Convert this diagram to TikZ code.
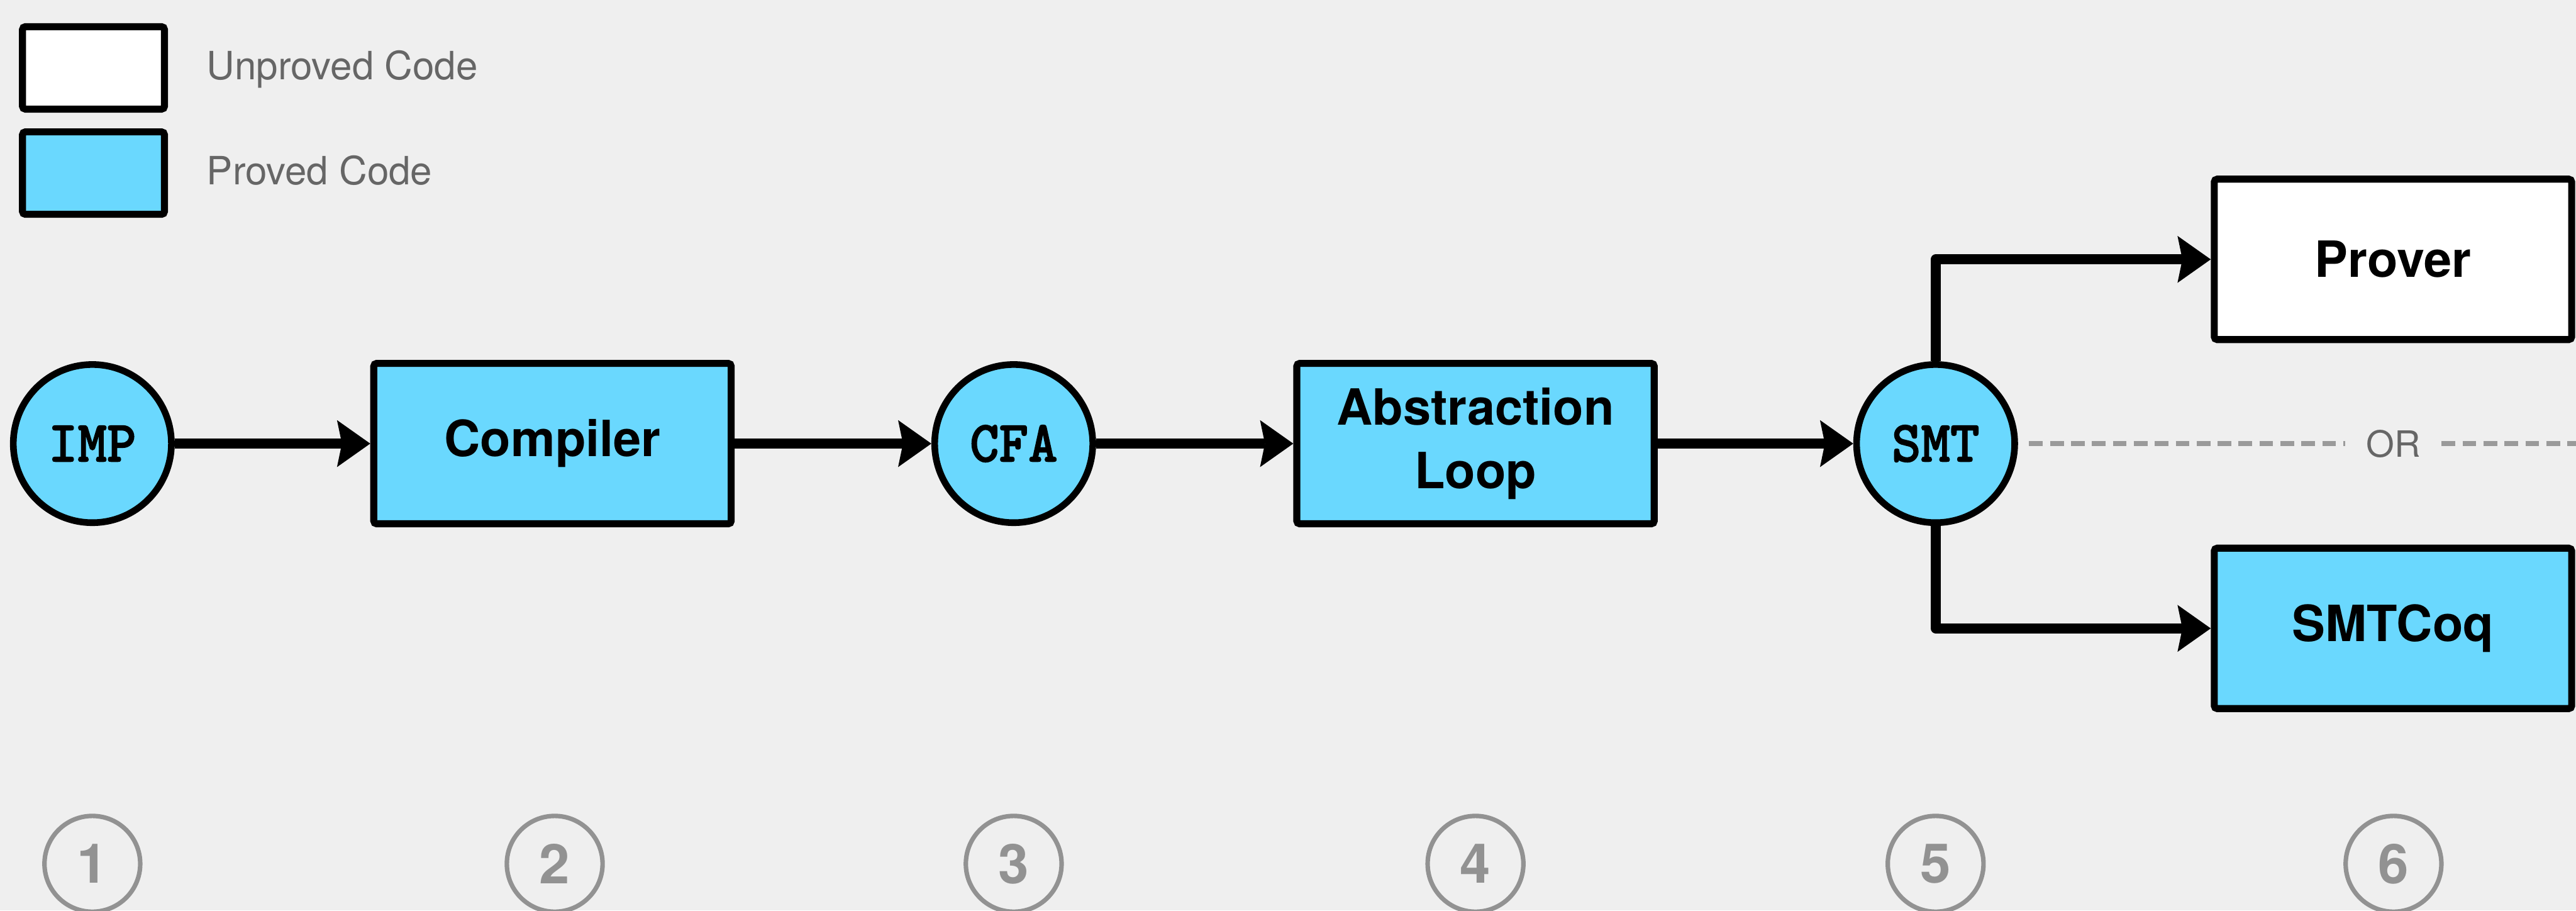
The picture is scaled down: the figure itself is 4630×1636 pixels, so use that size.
\documentclass[tikz,border=0pt]{standalone}
\usepackage{fontspec}
\newfontfamily\heros{TeX Gyre Heros}
\newfontfamily\codef{lmmonolt10-bold.otf}[FakeBold=1.6]
\newcommand\mycode[1]{\scalebox{1}[1.05]{\codef\fontsize{28.5}{30}\selectfont #1}}
\usetikzlibrary{arrows.meta}
\definecolor{bg}{HTML}{EFEFEF}
\definecolor{provedc}{HTML}{6AD8FE}
\definecolor{numgray}{HTML}{929292}
\definecolor{legtext}{HTML}{666666}
\definecolor{dashgray}{HTML}{9A9A9A}
\begin{document}
\begin{tikzpicture}[x=0.01cm,y=-0.01cm,
  box/.style={draw=black, line width=3.6pt, rounded corners=1.5pt, minimum width=6.42cm, minimum height=2.88cm, inner sep=0pt, align=center,
    font=\heros\bfseries\fontsize{25.5}{32.7}\selectfont},
  provedbox/.style={box, fill=provedc},
  unprovedbox/.style={box, fill=white},
  lang/.style={circle, draw=black, line width=3.4pt, fill=provedc, minimum size=2.84cm, inner sep=0pt},
  flow/.style={-{Stealth[length=17pt,width=24pt,inset=2.5pt,line width=0pt]}, line width=5pt, line join=round},
  legbox/.style={draw=black, line width=3.6pt, rounded corners=1.5pt, minimum width=2.55cm, minimum height=1.48cm, inner sep=0pt},
  legtxt/.style={inner sep=0pt, text=legtext, font=\heros\fontsize{19.9}{22}\selectfont},
  ortext/.style={inner ysep=0pt, inner xsep=0.37cm, text=legtext, font=\heros\fontsize{18.5}{20}\selectfont},
  dashline/.style={draw=dashgray, line width=2.4pt, dash pattern=on 7pt off 3.7pt},
  num/.style={circle, draw=numgray, line width=2.3pt, minimum size=1.72cm, inner sep=0pt, text=numgray,
    font=\heros\bfseries\fontsize{28}{28}\selectfont}
]
\useasboundingbox (0,0) rectangle (4630,1636);
\fill[bg] (0,0) rectangle (4630,1636);

% legend
\node[legbox, fill=white] (lu) at (168,122) {};
\node[legbox, fill=provedc] (lp) at (168,311) {};
\node[legtxt, anchor=base west] (lut) at (371,143) {Unproved Code};
\node[legtxt, anchor=base west] (lpt) at (371,332) {Proved Code};

% main flow
\node[lang] (imp) at (166,797) {\mycode{IMP}};
\node[provedbox] (comp) at (993,797) {Compiler};
\node[lang] (cfa) at (1822,797) {\mycode{CFA}};
\node[provedbox] (abs) at (2652,797) {Abstraction\\Loop};
\node[lang] (smt) at (3479,797) {\mycode{SMT}};
\node[unprovedbox] (prover) at (4301,466) {Prover};
\node[provedbox] (smtcoq) at (4301,1129) {SMTCoq};

\draw[flow] (imp) -- (comp);
\draw[flow] (comp) -- (cfa);
\draw[flow] (cfa) -- (abs);
\draw[flow] (abs) -- (smt);
\draw[flow] (smt.north) |- (prover.west);
\draw[flow] (smt.south) |- (smtcoq.west);

% OR separator
\node[ortext] (or) at (4302,797) {OR};
\coordinate (orend) at (4630,797);
\draw[dashline, shorten <=0.2cm] (smt.east) -- (or.west);
\draw[dashline] (or.east) -- (orend);

% step numbers
\foreach \i/\x in {1/166,2/997,3/1822,4/2652,5/3479,6/4302}
  \node[num] (n\i) at (\x,1552) {\i};
\end{tikzpicture}
\end{document}
